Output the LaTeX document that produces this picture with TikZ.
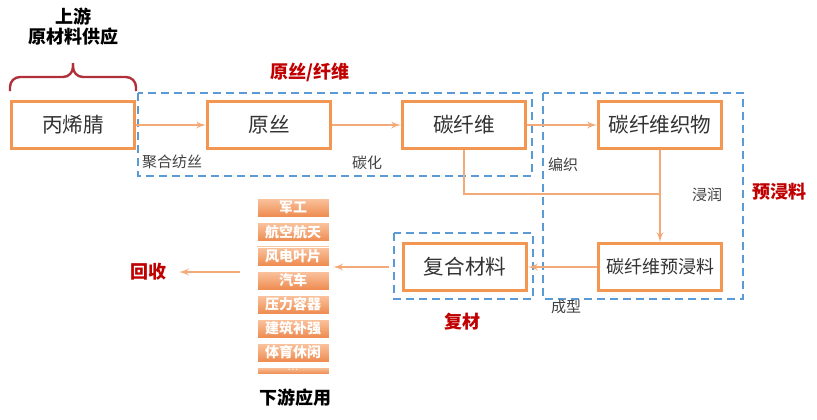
\documentclass[tikz,border=0pt]{standalone}
\usepackage{fontspec}
\setmainfont{Noto Sans CJK SC}
\usetikzlibrary{arrows}
\definecolor{boxorange}{RGB}{242,150,82}
\definecolor{arrorange}{RGB}{244,170,120}
\definecolor{grpblue}{RGB}{91,155,213}
\definecolor{tagred}{RGB}{192,0,0}
\definecolor{bracered}{RGB}{176,48,58}
\definecolor{itemtop}{RGB}{250,196,160}
\definecolor{itembot}{RGB}{238,138,78}
\tikzstyle{block} = [rectangle, draw=boxorange, line width=1.5pt, fill=white,
minimum width=61.5pt, minimum height=23.5pt, inner sep=0pt, text=black!80,
font=\fontsize{10.3}{12}\selectfont]
\tikzstyle{line} = [draw=arrorange, line width=0.7pt, -latex']
\tikzstyle{link} = [draw=arrorange, line width=0.7pt]
\tikzstyle{group} = [draw=grpblue, line width=0.8pt, dash pattern=on 4pt off 2.5pt]
\tikzstyle{note} = [text=black!75, font=\fontsize{7.5}{9}\selectfont]
\tikzstyle{tag} = [text=tagred, font=\bfseries\fontsize{9}{11}\selectfont]
\tikzstyle{title} = [text=black, align=center, font=\bfseries\fontsize{9}{10}\selectfont]
\tikzstyle{app} = [rectangle, top color=itemtop, bottom color=itembot, draw=white,
line width=0.3pt, minimum width=36pt, minimum height=9.5pt, inner sep=0pt,
text=white, font=\bfseries\fontsize{7}{8}\selectfont]

\begin{document}
\begin{tikzpicture}[x=0.5pt, y=-0.5pt]
    \useasboundingbox (0,0) rectangle (817,419);
    % dashed groups
    \draw [group] (138,93) rectangle (532,176);
    \draw [group] (543,93) rectangle (743,299);
    \draw [group] (394,233) rectangle (533,299);
    % main chain
    \node [block] (acn) at (73,125) {丙烯腈};
    \node [block, right of=acn, node distance=98pt] (precursor) {原丝};
    \node [block, right of=precursor, node distance=97.5pt] (cfiber) {碳纤维};
    \node [block, right of=cfiber, node distance=98pt] (fabric) {碳纤维织物};
    \node [block, below of=fabric, node distance=71pt, font=\fontsize{9}{11}\selectfont] (prepreg) {碳纤维预浸料};
    \node [block, left of=prepreg, node distance=97.5pt] (composite) {复合材料};
    % downstream list
    \node [app] (military) at (293,207.5) {军工};
    \node [app, below of=military, node distance=12.2pt] (aero) {航空航天};
    \node [app, below of=aero, node distance=12.2pt] (wind) {风电叶片};
    \node [app, below of=wind, node distance=12.1pt] (auto) {汽车};
    \node [app, below of=auto, node distance=12pt] (vessel) {压力容器};
    \node [app, below of=vessel, node distance=12pt] (building) {建筑补强};
    \node [app, below of=building, node distance=12pt] (sports) {体育休闲};
    \node [app, minimum height=3.5pt, font=\fontsize{5}{5}\selectfont] (more) at (293,370.5)
        {\raisebox{0pt}[0pt][0pt]{…}};
    % labels
    \node [title] (upstream) at (73,27) {上游\\原材料供应};
    \node [tag] (fibertag) at (310,72) {原丝/纤维};
    \node [tag] (prepregtag) at (779,192) {预浸料};
    \node [tag] (compositetag) at (462,322) {复材};
    \node [tag] (recycle) at (148,272) {回收};
    \node [title] (downstream) at (295,398) {下游应用};
    \node [note] (spin) at (172,162) {聚合纺丝};
    \node [note] (carbonize) at (367,163) {碳化};
    \node [note] (weave) at (563,165) {编织};
    \node [note] (impreg) at (707,195) {浸润};
    \node [note] (mould) at (566,307) {成型};
    % brace over the raw material
    \draw [bracered, line width=1.2pt, rounded corners=5pt] (10,91) -- (10,77) -- (73,77) -- (73,63);
    \draw [bracered, line width=1.2pt, rounded corners=5pt] (136,91) -- (136,77) -- (73,77) -- (73,63);
    % connectors
    \coordinate (merge) at (660,194);
    \coordinate (backout) at (240,272);
    \path [line] (acn) -- (precursor);
    \path [line] (precursor) -- (cfiber);
    \path [line] (cfiber) -- (fabric);
    \path [line] (fabric) -- (prepreg);
    \path [link] (cfiber.south) |- (merge);
    \path [line] (prepreg) -- (composite);
    \path [line, shorten <=6.75pt, shorten >=2pt] (composite.west) -- (composite.west -| auto.east);
    \path [line, shorten >=3pt] (backout) -- (recycle.east);
\end{tikzpicture}
\end{document}
